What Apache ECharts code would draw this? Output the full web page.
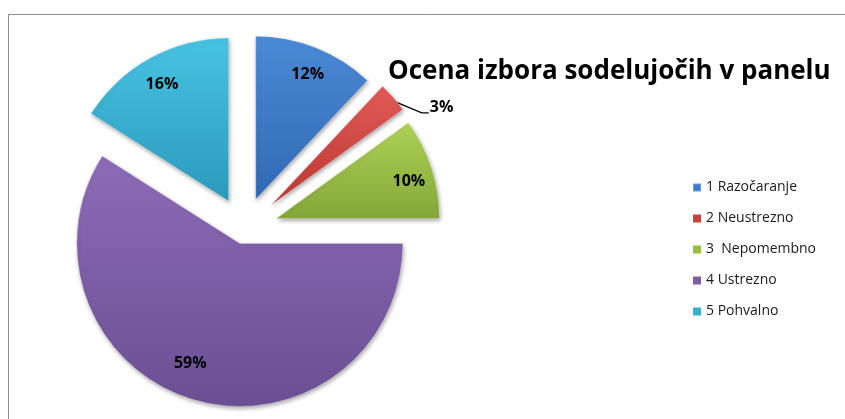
<!DOCTYPE html>
<html><head><meta charset="utf-8">
<script src="https://cdn.jsdelivr.net/npm/echarts@6/dist/echarts.min.js"></script>
<style>html,body{margin:0;padding:0;background:#fff}#c{width:845px;height:419px}</style>
</head><body><div id="c"></div>
<script>
// ---- data ----
const categories = ['1 Razočaranje', '2 Neustrezno', '3  Nepomembno', '4 Ustrezno', '5 Pohvalno'];
const values = [12, 3, 10, 59, 16];
const chartTitle = 'Ocena izbora sodelujočih v panelu';

// ---- style ----
const explodeOffsets = [32, 36, 34, 15, 32];
const labelShift = [[1, 4], [17, 17], [1, 6], [-11, -13], [0, 5]];
const topColors = ['#4a8ad6', '#e25a55', '#aed255', '#8d6cb8', '#48c3e3'];
const bottomColors = ['#3169b3', '#bb3833', '#84a63a', '#6a4f92', '#2b9abb'];
const legendColors = ['#3d7cc9', '#c8423e', '#97bd44', '#7c5ea6', '#37afd2'];
const FONT = '"Open Sans", "Noto Sans", sans-serif';
const CENTER = [244, 229];
const R = 163;

function grad(i) {
  return {
    type: 'linear', x: 0, y: 0, x2: 0, y2: 1,
    colorStops: [{ offset: 0, color: topColors[i] }, { offset: 1, color: bottomColors[i] }]
  };
}

// shift the small outside label to the lower right of its slice tip, with an elbow leader line
function outsideLabelLayout(i) {
  return function (params) {
    const dx = labelShift[i][0], dy = labelShift[i][1];
    const pts = params.labelLinePoints;
    const r = params.labelRect;
    if (!pts || !pts.length || !r) return { dx: dx, dy: dy };
    const left = r.x + dx;
    const lineY = r.y + r.height / 2 + dy + 5;
    return {
      dx: dx, dy: dy,
      labelLinePoints: [[pts[0][0] + 1, pts[0][1] + 4], [left - 8, lineY], [left - 1, lineY]]
    };
  };
}

const series = [];
categories.forEach((name, i) => {
  const isOutside = i === 1;
  series.push({
    type: 'pie',
    center: CENTER,
    radius: [0, R],
    startAngle: 90,
    clockwise: true,
    selectedMode: 'multiple',
    selectedOffset: explodeOffsets[i],
    avoidLabelOverlap: false,
    silent: true,
    animation: false,
    emphasis: { disabled: true },
    z: 2,
    data: categories.map((n, j) => ({
      name: n,
      value: values[j],
      selected: j === i,
      itemStyle: j === i
        ? { color: grad(j), shadowBlur: 4, shadowColor: 'rgba(0,0,0,0.35)', shadowOffsetX: 1, shadowOffsetY: 2, borderColor: 'rgba(255,255,255,0.25)', borderWidth: 1 }
        : { color: 'rgba(0,0,0,0)' },
      label: j === i && isOutside
        ? { show: true, position: 'outside', formatter: '{d}%', fontFamily: FONT, fontSize: 16, fontWeight: 'bold', color: '#000' }
        : { show: false },
      labelLine: j === i && isOutside
        ? { show: true, length: 10, length2: 7, lineStyle: { color: '#000', width: 1.3 } }
        : { show: false }
    })),
    labelLayout: isOutside ? outsideLabelLayout(i) : undefined
  });
  if (!isOutside) {
    series.push({
      type: 'pie',
      center: CENTER,
      radius: [R * 0.66, R],
      startAngle: 90,
      clockwise: true,
      selectedMode: 'multiple',
      selectedOffset: explodeOffsets[i],
      avoidLabelOverlap: false,
      silent: true,
      animation: false,
      emphasis: { disabled: true },
      z: 3,
      labelLayout: { dx: labelShift[i][0], dy: labelShift[i][1] },
      data: categories.map((n, j) => ({
        name: n,
        value: values[j],
        selected: j === i,
        itemStyle: { color: 'rgba(0,0,0,0)' },
        label: j === i
          ? { show: true, position: 'inside', formatter: '{d}%', fontFamily: FONT, fontSize: 16, fontWeight: 'bold', color: '#000' }
          : { show: false },
        labelLine: { show: false }
      }))
    });
  }
});

const chart = echarts.init(document.getElementById('c'), null, { renderer: 'canvas' });
chart.setOption({
  backgroundColor: '#fff',
  animation: false,
  title: {
    text: chartTitle,
    left: 383,
    top: 54,
    textStyle: { fontFamily: FONT, fontSize: 26, fontWeight: 'bold', color: '#000' }
  },
  legend: {
    orient: 'vertical',
    left: 687,
    top: 174,
    itemWidth: 8,
    itemHeight: 8,
    itemGap: 14,
    icon: 'rect',
    selectedMode: false,
    textStyle: { fontFamily: FONT, fontSize: 14, color: '#1a1a1a', lineHeight: 17 },
    data: categories.map((n, i) => ({ name: n, itemStyle: { color: legendColors[i], opacity: 1 } }))
  },
  graphic: [
    { type: 'line', shape: { x1: 8.5, y1: 14.5, x2: 845, y2: 14.5 }, style: { stroke: '#8c8c8c', lineWidth: 1 } },
    { type: 'line', shape: { x1: 8.5, y1: 14.5, x2: 8.5, y2: 419 }, style: { stroke: '#8c8c8c', lineWidth: 1 } }
  ],
  series: series
});
</script>
</body></html>
